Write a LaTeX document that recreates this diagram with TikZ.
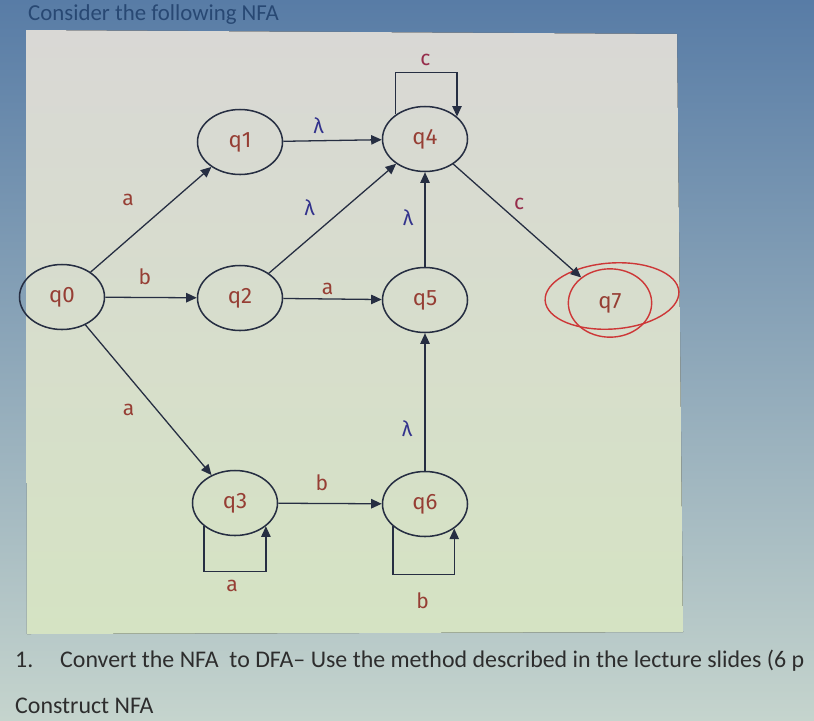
\documentclass[tikz,border=0pt]{standalone}
\usepackage{fontspec}
\setmainfont{Carlito}
\newfontfamily\etatfont{Fira Sans}
\usetikzlibrary{arrows.meta, positioning, shapes.geometric}
\definecolor{fondbleu}{RGB}{88,124,166}
\definecolor{fondmilieu}{RGB}{127,159,191}
\definecolor{fondclair}{RGB}{197,212,205}
\definecolor{panneauhaut}{RGB}{217,216,213}
\definecolor{panneaubas}{RGB}{213,227,195}
\definecolor{trait}{RGB}{38,46,66}
\definecolor{etiq}{RGB}{150,62,52}
\definecolor{etiqc}{RGB}{150,45,75}
\definecolor{lambdableu}{RGB}{50,50,140}
\definecolor{rougefinal}{RGB}{205,55,55}
\definecolor{texteq}{RGB}{45,45,45}
\definecolor{titre}{RGB}{40,72,115}

\begin{document}
\begin{tikzpicture}[x=0.03cm, y=-0.03cm,
    etat/.style={ellipse, draw=trait, line width=1.3pt, minimum width=2.55cm,
      minimum height=1.95cm, inner sep=0pt, text=etiq,
      font=\etatfont\fontsize{19}{19}\selectfont},
    fleche/.style={-{Triangle[length=9pt, width=8pt]}, draw=trait, line width=1.1pt},
    lettre/.style={inner sep=0pt, text=etiq, font=\etatfont\fontsize{18}{18}\selectfont},
    lam/.style={inner sep=0pt, text=lambdableu, font=\etatfont\fontsize{18}{18}\selectfont},
    consigne/.style={inner sep=0pt, anchor=base west, text=texteq,
      font=\fontsize{20.4}{20.4}\selectfont}]
        \useasboundingbox (0,0) rectangle (814,720);
        \clip (0,0) rectangle (814,720);

        % --- Fond (photo d'écran) ---
        \fill[top color=fondbleu, middle color=fondmilieu, bottom color=fondclair]
            (0,0) rectangle (814,720);
        \fill[top color=panneauhaut, bottom color=panneaubas]
            (26,30) -- (677,34) -- (683,632) -- (27,634) -- cycle;

        \node[inner sep=0pt, anchor=base west, text=titre, font=\fontsize{19.5}{19.5}\selectfont]
            (titre) at (28,20) {Consider the following NFA};

        % --- Etats ---
        \node[etat] (q0) at (62,297) {q0};
        \node[etat] (q1) at (240,142) {q1};
        \node[etat] (q2) at (240,298) {q2};
        \node[etat] (q3) at (235,503) {q3};
        \node[etat] (q4) at (425,139) {q4};
        \node[etat] (q5) at (425,300) {q5};
        \node[etat] (q6) at (425,504) {q6};
        % Etat final (entouré deux fois, à la main)
        \node[etat, draw=rougefinal, line width=1.2pt, minimum width=2.5cm, minimum height=2.05cm]
            (q7) at (610,303) {q7};
        \draw[rougefinal, line width=1.2pt, rotate around={4:(612,296)}]
            (612,296) ellipse (67 and 33);

        % --- Transitions ---
        \draw[fleche] (q0) -- (q1)
            node[lettre, pos=0.5, shift={(-23,-20)}] {a};
        \draw[fleche] (q0) -- (q2)
            node[lettre, pos=0.5, shift={(-6,-21)}] {b};
        \draw[fleche] (q0) -- (q3)
            node[lettre, pos=0.5, shift={(-20,10)}] {a};
        \draw[fleche] (q1) -- (q4)
            node[lam, pos=0.5, shift={(-14,-15)}] {λ};
        \draw[fleche] (q2) -- (q4)
            node[lam, pos=0.5, shift={(-23,-11)}] {λ};
        \draw[fleche] (q2) -- (q5)
            node[lettre, pos=0.5, shift={(-5,-10)}] {a};
        \draw[fleche] (q5) -- (q4)
            node[lam, pos=0.5, shift={(-17,-2)}] {λ};
        \draw[fleche] (q6) -- (q5)
            node[lam, pos=0.5, shift={(-18,27)}] {λ};
        \draw[fleche] (q3) -- (q6)
            node[lettre, pos=0.5, shift={(-8,-21)}] {b};
        \draw[fleche] (q4) -- (q7)
            node[lettre, text=etiqc, pos=0.5, shift={(2,-17)}] {c};

        % --- Boucles ---
        \draw[fleche] (q4.140) -- ++(0,-42) -| (q4.35)
            node[lettre, text=etiqc, pos=0.25, shift={(-1,-13)}] {c};
        \draw[fleche] (q3.217) -- ++(0,45) -| (q3.323)
            node[lettre, pos=0.25, shift={(-3,15)}] {a};
        \draw[fleche] (q6.215) -- ++(0,48) -| (q6.320)
            node[lettre, pos=0.25, shift={(-1,26)}] {b};

        % --- Consignes ---
        \node[consigne] (num) at (15,667) {1.};
        \node[consigne] (conv) at (60,667)
            {Convert the NFA\ \ to DFA– Use the method described in the lecture slides (6 p};
        \node[consigne] (constr) at (15,713) {Construct NFA};
    \end{tikzpicture}
\end{document}
